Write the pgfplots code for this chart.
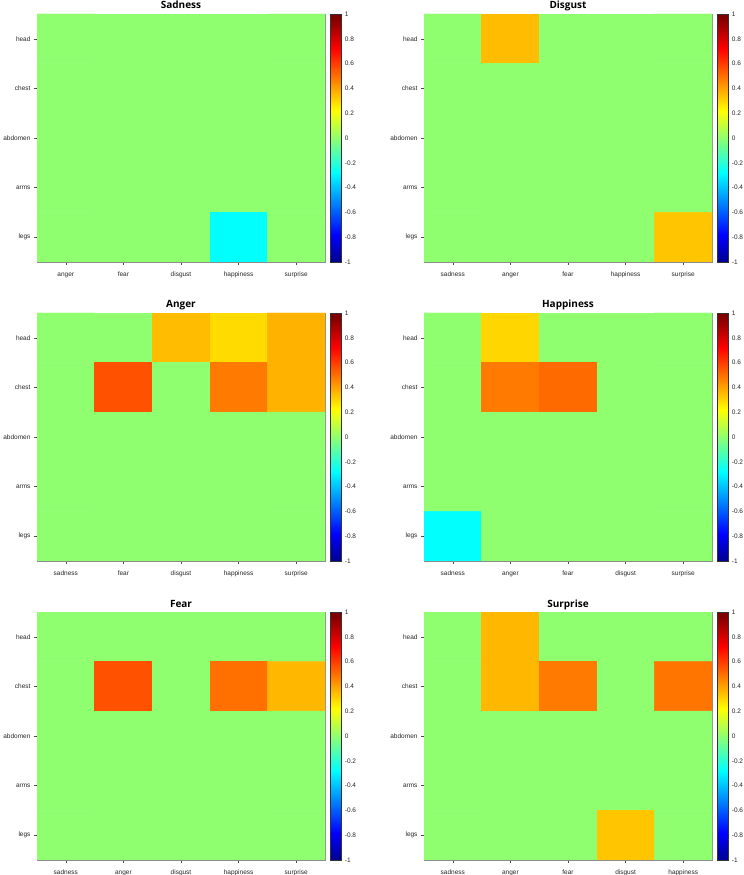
\documentclass[border=0pt]{standalone}
\usepackage{fontspec}
\setmainfont{Liberation Sans}
\newfontfamily\titlefont{Open Sans}
\usepackage{pgfplots}
\pgfplotsset{compat=1.18}

% matlab jet(64), index k sits at position k-1 (value = pos/32 - 1)
\pgfplotsset{
  colormap={matjet}{rgb(0cm)=(0,0,0.5625) rgb(7cm)=(0,0,1) rgb(23cm)=(0,1,1)
    rgb(39cm)=(1,1,0) rgb(55cm)=(1,0,0) rgb(63cm)=(0.5,0,0) rgb(64cm)=(0.5,0,0)},
  every axis title/.style={at={(0.5,1)}, anchor=base, yshift=5bp,
    font=\titlefont\bfseries\fontsize{10bp}{12bp}\selectfont},
  hm/.style={
    width=288bp, height=248bp, scale only axis,
    anchor=north west,
    xmin=-0.5, xmax=4.5, ymin=-0.5, ymax=4.5,
    y dir=reverse,
    xtick={0,...,4}, ytick={0,...,4},
    yticklabels={head,chest,abdomen,arms,legs},
    xtick pos=bottom, ytick pos=left,
    tick align=outside, major tick length=3bp,
    tick style={black!70, line width=0.5bp},
    axis line style={black!45, line width=0.7bp},
    tick label style={font=\fontsize{6.5bp}{7.5bp}\selectfont, text=black!85},
    x tick label style={yshift=-2.5bp, text height=5bp, text depth=1.5bp},
    colormap name=matjet,
    point meta min=-1, point meta max=1,
    colorbar right,
    colorbar shift/.style={xshift=5bp},
    colorbar style={
      width=11bp,
      ytick={-1,-0.8,-0.6,-0.4,-0.2,0,0.2,0.4,0.6,0.8,1},
      yticklabel pos=right, major tick length=0pt,
      tick label style={font=\fontsize{6.5bp}{7.5bp}\selectfont, text=black!85},
      axis line style={black!80, line width=0.5bp},
      /pgf/number format/assume math mode=true,
    },
    /pgf/number format/assume math mode=true,
  },
  cells/.style={matrix plot*, mesh/cols=5, point meta=explicit},
}

\begin{document}
\begin{tikzpicture}
\useasboundingbox (0,0) rectangle (744bp,875bp);

% ---- row 1
\begin{axis}[hm, at={(37bp,861bp)}, title={Sadness},
  xticklabels={anger,fear,disgust,happiness,surprise}]
\addplot[cells] coordinates {
(0,0)[0] (1,0)[0] (2,0)[0] (3,0)[0] (4,0)[0]
(0,1)[0] (1,1)[0] (2,1)[0] (3,1)[0] (4,1)[0]
(0,2)[0] (1,2)[0] (2,2)[0] (3,2)[0] (4,2)[0]
(0,3)[0] (1,3)[0] (2,3)[0] (3,3)[0] (4,3)[0]
(0,4)[0] (1,4)[0] (2,4)[0] (3,4)[-0.28] (4,4)[0]
};
\end{axis}

\begin{axis}[hm, at={(424bp,861bp)}, title={Disgust},
  xticklabels={sadness,anger,fear,happiness,surprise}]
\addplot[cells] coordinates {
(0,0)[0] (1,0)[0.35] (2,0)[0] (3,0)[0] (4,0)[0]
(0,1)[0] (1,1)[0] (2,1)[0] (3,1)[0] (4,1)[0]
(0,2)[0] (1,2)[0] (2,2)[0] (3,2)[0] (4,2)[0]
(0,3)[0] (1,3)[0] (2,3)[0] (3,3)[0] (4,3)[0]
(0,4)[0] (1,4)[0] (2,4)[0] (3,4)[0] (4,4)[0.33]
};
\end{axis}

% ---- row 2
\begin{axis}[hm, at={(37bp,562bp)}, title={Anger},
  xticklabels={sadness,fear,disgust,happiness,surprise}]
\addplot[cells] coordinates {
(0,0)[0] (1,0)[0] (2,0)[0.35] (3,0)[0.29] (4,0)[0.37]
(0,1)[0] (1,1)[0.56] (2,1)[0] (3,1)[0.48] (4,1)[0.37]
(0,2)[0] (1,2)[0] (2,2)[0] (3,2)[0] (4,2)[0]
(0,3)[0] (1,3)[0] (2,3)[0] (3,3)[0] (4,3)[0]
(0,4)[0] (1,4)[0] (2,4)[0] (3,4)[0] (4,4)[0]
};
\end{axis}

\begin{axis}[hm, at={(424bp,562bp)}, title={Happiness},
  xticklabels={sadness,anger,fear,disgust,surprise}]
\addplot[cells] coordinates {
(0,0)[0] (1,0)[0.30] (2,0)[0] (3,0)[0] (4,0)[0]
(0,1)[0] (1,1)[0.48] (2,1)[0.51] (3,1)[0] (4,1)[0]
(0,2)[0] (1,2)[0] (2,2)[0] (3,2)[0] (4,2)[0]
(0,3)[0] (1,3)[0] (2,3)[0] (3,3)[0] (4,3)[0]
(0,4)[-0.28] (1,4)[0] (2,4)[0] (3,4)[0] (4,4)[0]
};
\end{axis}

% ---- row 3
\begin{axis}[hm, at={(37bp,263bp)}, title={Fear},
  xticklabels={sadness,anger,disgust,happiness,surprise}]
\addplot[cells] coordinates {
(0,0)[0] (1,0)[0] (2,0)[0] (3,0)[0] (4,0)[0]
(0,1)[0] (1,1)[0.56] (2,1)[0] (3,1)[0.50] (4,1)[0.36]
(0,2)[0] (1,2)[0] (2,2)[0] (3,2)[0] (4,2)[0]
(0,3)[0] (1,3)[0] (2,3)[0] (3,3)[0] (4,3)[0]
(0,4)[0] (1,4)[0] (2,4)[0] (3,4)[0] (4,4)[0]
};
\end{axis}

\begin{axis}[hm, at={(424bp,263bp)}, title={Surprise},
  xticklabels={sadness,anger,fear,disgust,happiness}]
\addplot[cells] coordinates {
(0,0)[0] (1,0)[0.36] (2,0)[0] (3,0)[0] (4,0)[0]
(0,1)[0] (1,1)[0.36] (2,1)[0.48] (3,1)[0] (4,1)[0.49]
(0,2)[0] (1,2)[0] (2,2)[0] (3,2)[0] (4,2)[0]
(0,3)[0] (1,3)[0] (2,3)[0] (3,3)[0] (4,3)[0]
(0,4)[0] (1,4)[0] (2,4)[0] (3,4)[0.33] (4,4)[0]
};
\end{axis}
\end{tikzpicture}
\end{document}
